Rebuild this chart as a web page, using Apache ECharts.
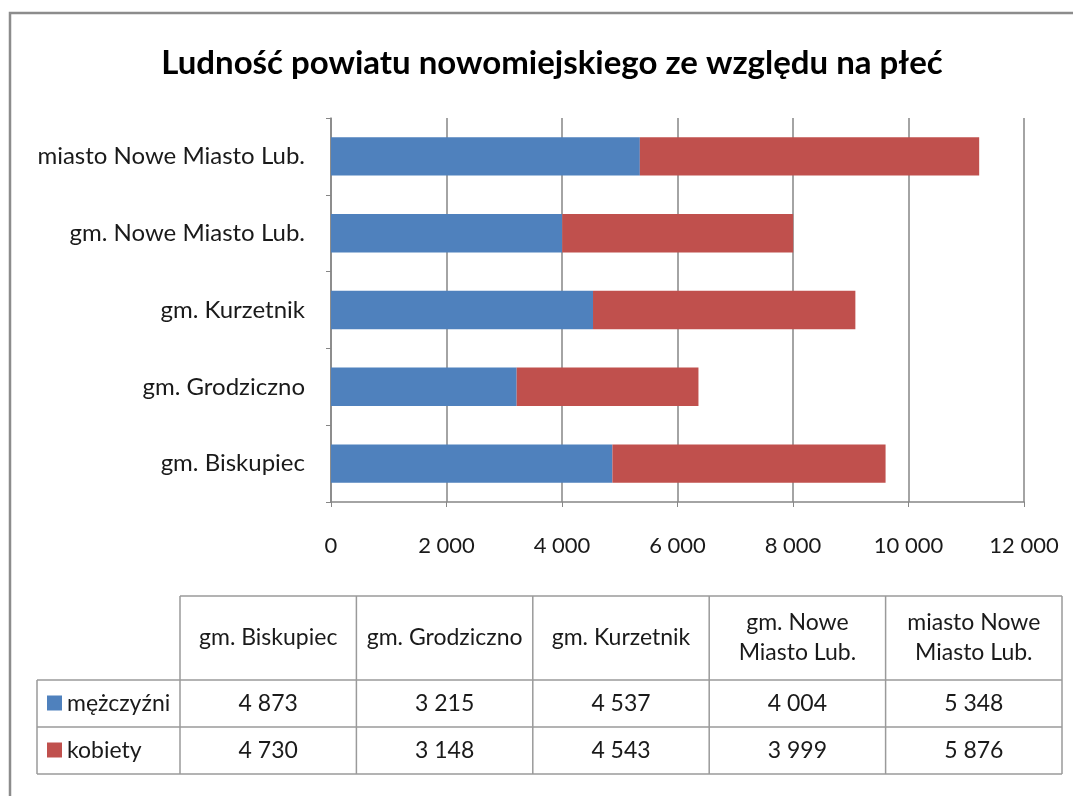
<!DOCTYPE html>
<html>
  <head>
    <meta charset="utf-8">
    <title>Ludność powiatu nowomiejskiego</title>
    <script src="https://cdn.jsdelivr.net/npm/echarts@6/dist/echarts.min.js"></script>
    <style>
      html, body { margin: 0; padding: 0; background: #fff; }
      #chart { width: 1073px; height: 796px; }
    </style>
  </head>
  <body>
    <div id="chart"></div>
  <script>
    // dane
    var categories = ['gm. Biskupiec', 'gm. Grodziczno', 'gm. Kurzetnik', 'gm. Nowe Miasto Lub.', 'miasto Nowe Miasto Lub.'];
    var tableHeads = ['gm. Biskupiec', 'gm. Grodziczno', 'gm. Kurzetnik', 'gm. Nowe\nMiasto Lub.', 'miasto Nowe\nMiasto Lub.'];
    var seriesNames = ['mężczyźni', 'kobiety'];
    var men = [4873, 3215, 4537, 4004, 5348];
    var women = [4730, 3148, 4543, 3999, 5876];
    var xTicks = [0, 2000, 4000, 6000, 8000, 10000, 12000];

    var colors = ['#4F81BD', '#C0504D'];
    var font = 'Lato, "Open Sans", sans-serif';

    function fmt(v) {
      return String(v).replace(/\B(?=(\d{3})+(?!\d))/g, ' ');
    }

    // tabela danych pod wykresem
    var graphic = [];
    var lineStyle = { stroke: '#9a9a9a', lineWidth: 1.5 };
    var legX = 37, colX = 180, colW = 176.4, headTop = 596, headBot = 680, rowH = 47;
    var tRight = colX + colW * categories.length;
    var tBot = headBot + rowH * 2;

    // ramka
    graphic.push({ type: 'polyline', shape: { points: [[10, 800], [10, 13], [1080, 13]] },
      style: { stroke: '#8c8c8c', lineWidth: 2.5, fill: null } });

    // linie poziome
    graphic.push({ type: 'line', shape: { x1: colX, y1: headTop, x2: tRight, y2: headTop }, style: lineStyle });
    for (var r = 0; r <= 2; r++) {
      var y = headBot + rowH * r;
      graphic.push({ type: 'line', shape: { x1: legX, y1: y, x2: tRight, y2: y }, style: lineStyle });
    }
    // linie pionowe
    graphic.push({ type: 'line', shape: { x1: legX, y1: headBot, x2: legX, y2: tBot }, style: lineStyle });
    for (var c = 0; c <= categories.length; c++) {
      var x = colX + colW * c;
      graphic.push({ type: 'line', shape: { x1: x, y1: headTop, x2: x, y2: tBot }, style: lineStyle });
    }
    // naglowki
    tableHeads.forEach(function (h, i) {
      graphic.push({ type: 'text', x: colX + colW * (i + 0.5), y: (headTop + headBot) / 2,
        style: { text: h, font: '23px ' + font, fill: '#1a1a1a', align: 'center', verticalAlign: 'middle', lineHeight: 30 } });
    });
    // wiersze
    [men, women].forEach(function (arr, r) {
      var cy = headBot + rowH * (r + 0.5);
      graphic.push({ type: 'rect', shape: { x: 47, y: cy - 8, width: 15, height: 15 }, style: { fill: colors[r] } });
      graphic.push({ type: 'text', x: 67, y: cy,
        style: { text: seriesNames[r], font: '23px ' + font, fill: '#1a1a1a', align: 'left', verticalAlign: 'middle' } });
      arr.forEach(function (v, i) {
        graphic.push({ type: 'text', x: colX + colW * (i + 0.5), y: cy,
          style: { text: fmt(v), font: '23px ' + font, fill: '#1a1a1a', align: 'center', verticalAlign: 'middle' } });
      });
    });

    var myChart = echarts.init(document.getElementById('chart'), null, { renderer: 'canvas' });
    var option = {
      backgroundColor: '#fff',
      animation: false,
      color: colors,
      textStyle: { fontFamily: font },
      title: {
        text: 'Ludność powiatu nowomiejskiego ze względu na płeć',
        left: 547, top: 42, textAlign: 'center',
        textStyle: { fontSize: 33, fontWeight: 'bold', color: '#000', fontFamily: font }
      },
      grid: { left: 331, right: 49, top: 118, height: 384, containLabel: false },
      xAxis: {
        type: 'value', min: xTicks[0], max: xTicks[xTicks.length - 1], interval: 2000,
        axisLine: { show: true, lineStyle: { color: '#868686', width: 1.5 } },
        axisTick: { show: true, length: 5, lineStyle: { color: '#868686' } },
        splitLine: { show: true, lineStyle: { color: '#868686', width: 1.5 } },
        axisLabel: { margin: 33, fontSize: 22, color: '#1a1a1a', formatter: function (v) { return fmt(v); } }
      },
      yAxis: {
        type: 'category', data: categories,
        axisLine: { show: true, lineStyle: { color: '#868686', width: 1.5 } },
        axisTick: { show: true, length: 5, lineStyle: { color: '#868686' } },
        axisLabel: { margin: 26, fontSize: 24, color: '#1a1a1a' }
      },
      series: [
        { name: seriesNames[0], type: 'bar', stack: 'all', barWidth: '50%', data: men },
        { name: seriesNames[1], type: 'bar', stack: 'all', barWidth: '50%', data: women }
      ],
      graphic: graphic
    };
    myChart.setOption(option);
  </script>
  </body>
</html>
